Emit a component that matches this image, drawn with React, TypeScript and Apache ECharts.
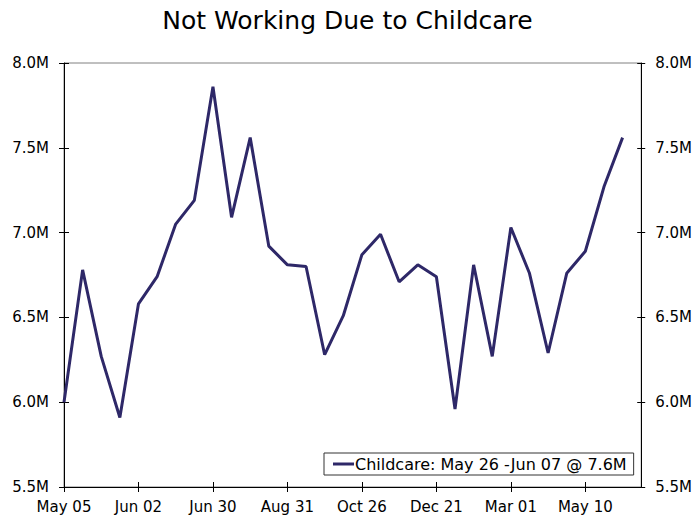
import React, { useEffect, useRef } from "react";
import * as echarts from "echarts";

const title = "Not Working Due to Childcare";
const seriesName = "Childcare: May 26 -Jun 07 @ 7.6M";
const categories = [
  "May 05", "May 12", "May 19", "May 26", "Jun 02", "Jun 09", "Jun 16", "Jun 23",
  "Jun 30", "Jul 07", "Jul 14", "Jul 21", "Aug 31", "Sep 14", "Sep 28", "Oct 12",
  "Oct 26", "Nov 09", "Nov 23", "Dec 07", "Dec 21", "Jan 18", "Feb 01", "Feb 15",
  "Mar 01", "Mar 15", "Mar 29", "Apr 26", "May 10", "May 24", "Jun 07", "Jun 21",
];
// values in millions
const childcare = [
  6.0, 6.78, 6.27, 5.91, 6.58, 6.74, 7.05, 7.19,
  7.86, 7.09, 7.56, 6.92, 6.81, 6.8, 6.28, 6.51,
  6.87, 6.99, 6.71, 6.81, 6.74, 5.96, 6.81, 6.27,
  7.03, 6.76, 6.29, 6.76, 6.89, 7.27, 7.56,
];
const yMin = 5.5;
const yMax = 8.0;
const yStep = 0.5;

const FONT = "DejaVu Sans";

export default function App() {
  const ref = useRef<HTMLDivElement>(null);
  useEffect(() => {
    if (!ref.current) return;
    const chart = echarts.init(ref.current, null, { renderer: "svg" });
    const fmt = (v: number) => v.toFixed(1) + "M";
    const baseY = {
      type: "value" as const,
      min: yMin,
      max: yMax,
      interval: yStep,
      splitLine: { show: false },
    };
    const baseX = {
      type: "category" as const,
      data: categories,
      boundaryGap: false,
      position: "bottom" as const,
    };
    chart.setOption({
      animation: false,
      backgroundColor: "#fff",
      title: {
        text: title,
        left: "center",
        top: 3,
        textStyle: { fontFamily: FONT, fontSize: 25, fontWeight: "normal", color: "#000" },
      },
      grid: {
        left: 64,
        right: 53,
        top: 63,
        bottom: 35,
        show: true,
        borderColor: "#808080",
        borderWidth: 1,
        containLabel: false,
      },
      legend: {
        left: 324,
        top: 453,
        padding: [3, 7, 3, 9],
        borderColor: "#333",
        borderWidth: 1,
        itemWidth: 21,
        itemHeight: 3,
        icon: "rect",
        textStyle: { fontFamily: FONT, fontSize: 16, color: "#000", padding: [0, 0, 0, -4] },
        data: [seriesName],
      },
      xAxis: [
        {
          ...baseX,
          axisLine: { show: true, lineStyle: { color: "#000", width: 1 } },
          axisTick: { show: true, inside: false, length: 5, interval: 3, lineStyle: { color: "#000" } },
          axisLabel: { interval: 3, margin: 12, fontFamily: FONT, fontSize: 15, color: "#000" },
        },
        {
          ...baseX,
          axisLine: { show: false },
          axisTick: { show: true, inside: true, length: 5, interval: 3, lineStyle: { color: "#000" } },
          axisLabel: { show: false },
        },
      ],
      yAxis: [
        {
          ...baseY,
          position: "left",
          axisLine: { show: true, lineStyle: { color: "#000", width: 1 } },
          axisTick: { show: true, inside: false, length: 5, lineStyle: { color: "#000" } },
          axisLabel: { formatter: fmt, margin: 15, fontFamily: FONT, fontSize: 15, color: "#000" },
        },
        {
          ...baseY,
          position: "left",
          axisLine: { show: false },
          axisTick: { show: true, inside: true, length: 5, lineStyle: { color: "#000" } },
          axisLabel: { show: false },
        },
        {
          ...baseY,
          position: "right",
          offset: 0,
          axisLine: { show: true, lineStyle: { color: "#000", width: 1 } },
          axisTick: { show: true, inside: false, length: 4, lineStyle: { color: "#000" } },
          axisLabel: { formatter: fmt, margin: 14, fontFamily: FONT, fontSize: 15, color: "#000" },
        },
        {
          ...baseY,
          position: "right",
          offset: 0,
          axisLine: { show: false },
          axisTick: { show: true, inside: true, length: 4, lineStyle: { color: "#000" } },
          axisLabel: { show: false },
        },
      ],
      series: [
        {
          name: seriesName,
          type: "line",
          data: childcare,
          xAxisIndex: 0,
          yAxisIndex: 0,
          showSymbol: false,
          symbol: "none",
          lineStyle: { color: "#2e2868", width: 3 },
          itemStyle: { color: "#2e2868" },
        },
      ],
    });
    return () => chart.dispose();
  }, []);
  return (
    <div
      ref={ref}
      style={{ position: "fixed", left: 0, top: 0, width: 695, height: 522 }}
    />
  );
}
